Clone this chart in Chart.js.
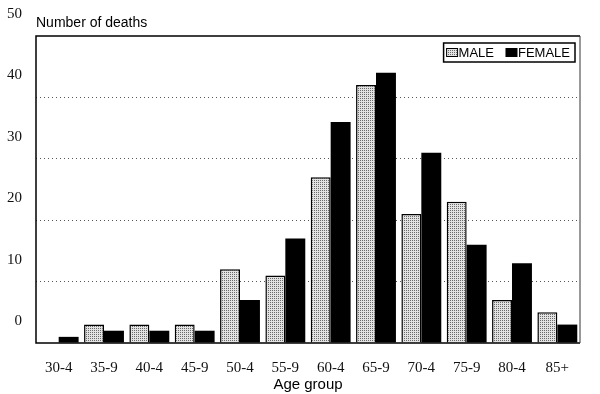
<!DOCTYPE html>
<html>
<head>
<meta charset="utf-8">
<script src="https://cdn.jsdelivr.net/npm/chart.js@4.4.0/dist/chart.umd.min.js"></script>
<style>
  body { margin: 0; background: #fff; }
  #wrap { width: 600px; height: 394px; }
</style>
</head>
<body>
<div id="wrap"><canvas id="deathsChart" width="600" height="394"></canvas></div>
<script>
const ageGroups = ['30-4', '35-9', '40-4', '45-9', '50-4', '55-9', '60-4', '65-9', '70-4', '75-9', '80-4', '85+'];
const maleDeaths = [0, 3, 3, 3, 12, 11, 27, 42, 21, 23, 7, 5];
const femaleDeaths = [1, 2, 2, 2, 7, 17, 36, 44, 31, 16, 13, 3];
const yMax = 50;
const yStep = 10;

// stippled grey fill for the male bars
function stipple() {
    const c = document.createElement('canvas');
    c.width = 2;
    c.height = 2;
    const g = c.getContext('2d');
    g.fillStyle = '#e2e2e2';
    g.fillRect(0, 0, 2, 2);
    g.fillStyle = '#6a6a6a';
    g.fillRect(0, 0, 1, 1);
    return g.createPattern(c, 'repeat');
}

const framePlugin = {
    id: 'frame',
    afterDatasetsDraw(chart) {
        const { ctx, chartArea: a } = chart;
        ctx.save();
        ctx.strokeStyle = '#000';
        ctx.lineWidth = 1.5;
        ctx.beginPath();
        ctx.moveTo(a.right, a.top);
        ctx.lineTo(a.left, a.top);
        ctx.lineTo(a.left, a.bottom);
        ctx.lineTo(a.right, a.bottom);
        ctx.stroke();
        ctx.lineWidth = 1;
        ctx.strokeStyle = '#333';
        ctx.beginPath();
        ctx.moveTo(a.right, a.top);
        ctx.lineTo(a.right, a.bottom);
        ctx.stroke();
        ctx.restore();
    },
    afterDraw(chart) {
        const { ctx, chartArea: a } = chart;
        ctx.save();
        // axis caption above the frame
        ctx.fillStyle = '#000';
        ctx.font = '14px "Liberation Sans", Arial, sans-serif';
        ctx.textBaseline = 'middle';
        ctx.textAlign = 'left';
        ctx.fillText('Number of deaths', a.left, 23);

        // legend box inside the plot, top right
        ctx.font = '13px "Liberation Sans", Arial, sans-serif';
        const sets = chart.data.datasets;
        const swW = 11, swH = 8, gap = 1, between = 12, padL = 3, padR = 5;
        let w = padL + padR;
        sets.forEach((d, i) => {
            w += swW + gap + ctx.measureText(d.label).width;
            if (i < sets.length - 1) w += between;
        });
        const bx = a.right - 5 - w;
        const by = a.top + 7;
        const bh = 19;
        ctx.fillStyle = '#fff';
        ctx.fillRect(bx, by, w, bh);
        ctx.strokeStyle = '#000';
        ctx.lineWidth = 1.5;
        ctx.strokeRect(bx, by, w, bh);
        let x = bx + padL;
        const cy = by + bh / 2;
        sets.forEach(d => {
            ctx.fillStyle = d.backgroundColor;
            ctx.fillRect(x, cy - swH / 2, swW, swH);
            ctx.lineWidth = 1;
            ctx.strokeStyle = '#000';
            ctx.strokeRect(x, cy - swH / 2, swW, swH);
            x += swW + gap;
            ctx.fillStyle = '#000';
            ctx.fillText(d.label, x, cy + 1);
            x += ctx.measureText(d.label).width + between;
        });
        ctx.restore();
    }
};

const ctx = document.getElementById('deathsChart').getContext('2d');

new Chart(ctx, {
    type: 'bar',
    data: {
        labels: ageGroups,
        datasets: [{
            label: 'MALE',
            data: maleDeaths,
            backgroundColor: stipple(),
            borderColor: '#000',
            borderWidth: 1.5,
            borderSkipped: 'bottom'
        }, {
            label: 'FEMALE',
            data: femaleDeaths,
            backgroundColor: '#000',
            borderWidth: 0
        }]
    },
    options: {
        responsive: false,
        animation: false,
        layout: {
            padding: { top: 36, right: 20, left: 0, bottom: 0 }
        },
        datasets: {
            bar: {
                categoryPercentage: 0.88,
                barPercentage: 1.0
            }
        },
        scales: {
            x: {
                grid: { display: false, drawTicks: false },
                border: { display: false },
                ticks: {
                    color: '#111',
                    padding: 16,
                    maxRotation: 0,
                    font: { family: '"Liberation Serif", "Times New Roman", serif', size: 15 }
                },
                title: {
                    display: true,
                    text: 'Age group',
                    color: '#000',
                    padding: 0,
                    font: { family: '"Liberation Sans", Arial, sans-serif', size: 15 }
                },
                afterFit(scale) { scale.height = 51; }
            },
            y: {
                min: 0,
                max: yMax,
                grid: {
                    drawTicks: false,
                    color: c => (c.tick.value === 0 || c.tick.value === yMax) ? 'rgba(0,0,0,0)' : '#555',
                    lineWidth: 1
                },
                border: { display: false, dash: [1, 3] },
                ticks: {
                    stepSize: yStep,
                    color: '#111',
                    padding: 14,
                    labelOffset: -22,
                    font: { family: '"Liberation Serif", "Times New Roman", serif', size: 15 }
                },
                afterFit(scale) { scale.width = 36; }
            }
        },
        plugins: {
            legend: { display: false },
            tooltip: { enabled: false }
        }
    },
    plugins: [framePlugin]
});
</script>
</body>
</html>
